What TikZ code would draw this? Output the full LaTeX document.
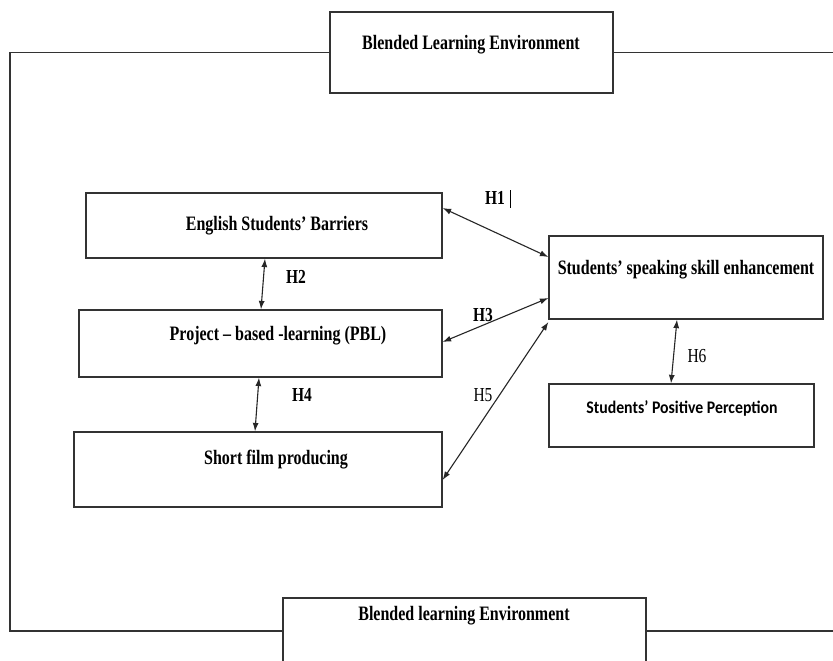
\documentclass[tikz,border=0pt]{standalone}
\usepackage{fontspec}
\setmainfont{Liberation Serif}
\newfontfamily\calibri{Carlito}
\usetikzlibrary{arrows.meta}
\newcommand{\tallt}[1]{\scalebox{1}[1.28]{#1}}
\tikzset{
  boxnode/.style={draw=black!80, line width=1.2pt, fill=white, inner sep=0pt, rectangle},
  lbl/.style={inner sep=0pt, font=\fontsize{16}{19}\selectfont\bfseries},
  hlbl/.style={inner sep=0pt, font=\fontsize{15.5}{18}\selectfont\bfseries},
  link/.style={draw=black!85, line width=1.1pt, {Latex[length=8.5pt,width=6pt]}-{Latex[length=8.5pt,width=6pt]}},
  frame/.style={draw=black!80, line width=1.2pt}
}
\begin{document}
\begin{tikzpicture}[x=1pt,y=-1pt]
\fill[white] (0,0) rectangle (833,661);
\useasboundingbox (0,0) rectangle (833,661);
% frame
\coordinate (ftl) at (10,52.5);
\coordinate (fbl) at (10,631);
\coordinate (ftr) at (840,52.5);
\coordinate (fbr) at (840,631);
\coordinate (fbm1) at (283,631);
\coordinate (fbm2) at (646,631);
\node[boxnode, minimum width=283pt, minimum height=81pt] (top) at (471.5,52.5) {};
\node[boxnode, minimum width=363pt, minimum height=72pt] (bot) at (464.5,634) {};
\draw[frame] (top.west) -- (ftl) -- (fbl) -- (fbm1);
\draw[frame] (top.east) -- (ftr);
\draw[frame] (fbm2) -- (fbr);
\node[lbl] (toptxt) at (471,45) {\tallt{Blended Learning Environment}};
\node[lbl] (bottxt) at (464,616) {\tallt{Blended learning Environment}};
% boxes
\node[boxnode, minimum width=356pt, minimum height=65pt] (b1) at (264,225.5) {};
\node[boxnode, minimum width=363pt, minimum height=67pt] (b2) at (260.5,343.5) {};
\node[boxnode, minimum width=368pt, minimum height=75pt] (b3) at (258,469.5) {};
\node[boxnode, minimum width=274pt, minimum height=83pt] (sp) at (686,277.5) {};
\node[boxnode, minimum width=265pt, minimum height=63pt] (pp) at (681.5,415.5) {};
\node[lbl] (b1t) at (277,226) {\tallt{English Students’ Barriers}};
\node[lbl] (b2t) at (278,336) {\tallt{Project – based -learning (PBL)}};
\node[lbl] (b3t) at (276,460) {\tallt{Short film producing}};
\node[lbl] (spt) at (686,270) {\tallt{Students’ speaking skill enhancement}};
\node[inner sep=0pt, font=\calibri\fontsize{15.8}{19}\selectfont\bfseries] (ppt) at (682,408) {\scalebox{1}[1.12]{Students’ Positive Perception}};
% connectors
\draw[link] ([yshift=17.5pt]b1.east) -- ([yshift=20.5pt]sp.west);
\draw[link] ([yshift=1.5pt]b2.east) -- ([yshift=-20.5pt]sp.west);
\draw[link] ([yshift=-10.5pt]b3.east) -- ([yshift=-44.5pt]sp.west);
\draw[link] ([xshift=1pt]b1.south) -- ([xshift=0.5pt]b2.north);
\draw[link] ([xshift=-1.5pt]b2.south) -- ([xshift=-3pt]b3.north);
\draw[link] ([xshift=-9pt]sp.south) -- ([xshift=-10.5pt]pp.north);
% hypothesis labels
\node[hlbl] (h1) at (495,198) {\tallt{H1}};
\draw[line width=0.8pt] (510,190) -- (510,208);
\node[hlbl] (h2) at (296,277) {\tallt{H2}};
\node[hlbl] (h3) at (483,315) {\tallt{H3}};
\node[hlbl] (h4) at (302,395) {\tallt{H4}};
\node[inner sep=0pt, font=\fontsize{15.5}{18}\selectfont] (h5) at (483,395) {\tallt{H5}};
\node[inner sep=0pt, font=\fontsize{15.5}{18}\selectfont] (h6) at (697,356) {\tallt{H6}};
\end{tikzpicture}
\end{document}
